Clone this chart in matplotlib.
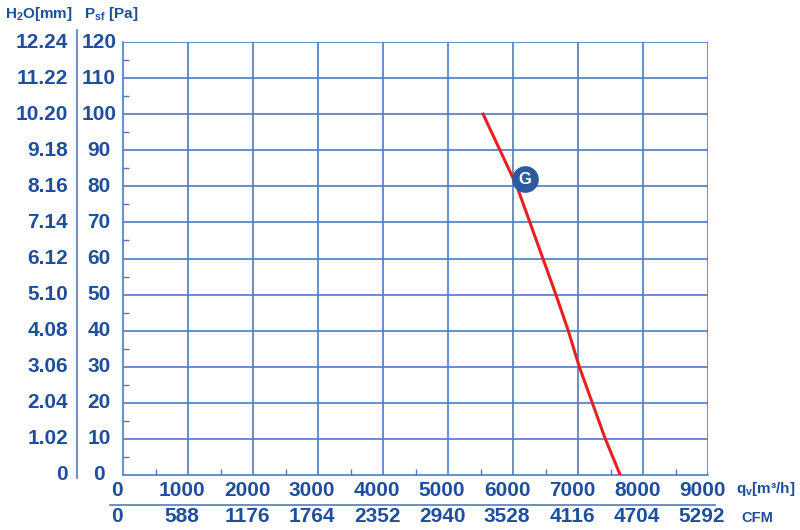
import matplotlib.pyplot as plt
import matplotlib as mpl

mpl.rcParams['font.family'] = ['Liberation Sans', 'DejaVu Sans']
mpl.rcParams['mathtext.fontset'] = 'custom'
mpl.rcParams['mathtext.rm'] = 'Liberation Sans:bold'
mpl.rcParams['mathtext.it'] = 'Liberation Sans:bold'
mpl.rcParams['mathtext.bf'] = 'Liberation Sans:bold'

# data
flow_ticks = [0, 1000, 2000, 3000, 4000, 5000, 6000, 7000, 8000, 9000]
cfm_labels = ["0", "588", "1176", "1764", "2352", "2940", "3528", "4116", "4704", "5292"]
pa_ticks = [0, 10, 20, 30, 40, 50, 60, 70, 80, 90, 100, 110, 120]
h2o_labels = ["0", "1.02", "2.04", "3.06", "4.08", "5.10", "6.12", "7.14",
              "8.16", "9.18", "10.20", "11.22", "12.24"]

curve_flow = [5540, 5800, 6060, 6260, 6460, 6660, 6850, 7020, 7220, 7420, 7650]
curve_pa = [100, 90, 80, 70, 60, 50, 40, 30, 20, 10, 0]
label_pos = (6185, 82)

grid_c = "#4f7ac0"
text_c = "#1f4e9c"
red = "#e8201f"

fig = plt.figure(figsize=(8, 5.3), dpi=100)
ax = fig.add_axes([123/800, 1-475/530, 585/800, 433/530])
ax.set_xlim(0, 9000)
ax.set_ylim(0, 120)

for x in flow_ticks[1:]:
    ax.axvline(x, color=grid_c, lw=1.2, zorder=1)
for y in pa_ticks[1:]:
    ax.axhline(y, color=grid_c, lw=1.2, zorder=1)
for s in ["top", "right"]:
    ax.spines[s].set_visible(False)
for s in ["left", "bottom"]:
    ax.spines[s].set_color(grid_c)
    ax.spines[s].set_linewidth(1.2)

ax.set_xticks([x + 500 for x in flow_ticks[:-1]])
ax.set_yticks([y + 5 for y in pa_ticks[:-1]])
ax.tick_params(direction="in", length=4, width=1, colors=grid_c,
               labelbottom=False, labelleft=False)

ax.plot(curve_flow, curve_pa, color=red, lw=2.2, zorder=3, solid_joinstyle="round")
ax.scatter([label_pos[0]], [label_pos[1]], s=330, color="#2a5aa0", zorder=4)
ax.text(label_pos[0], label_pos[1], "G", color="white", fontsize=12, fontweight="bold",
        ha="center", va="center", zorder=5)

# left labels (pixel offsets from the axes' left edge)
ytr = ax.get_yaxis_transform()
for y, lab in zip(pa_ticks, h2o_labels):
    ax.text(-24/585, y, str(y), transform=ytr, ha="center", va="center",
            fontsize=15, fontweight="bold", color=text_c, clip_on=False)
    ax.text(-55/585, y, lab, transform=ytr, ha="right", va="center",
            fontsize=15, fontweight="bold", color=text_c, clip_on=False)
ax.plot([-46/585, -46/585], [1 + 12/433, -3/433], transform=ax.transAxes,
        color=grid_c, lw=1.2, clip_on=False)

# bottom labels
xtr = ax.get_xaxis_transform()
for x, lab in zip(flow_ticks, cfm_labels):
    ax.text(x - 90, -15/433, str(x), transform=xtr, ha="center", va="center",
            fontsize=15, fontweight="bold", color=text_c, clip_on=False)
    ax.text(x - 90, -41/433, lab, transform=xtr, ha="center", va="center",
            fontsize=15, fontweight="bold", color=text_c, clip_on=False)
ax.plot([-13/585, 1 + 7/585], [-30/433, -30/433], transform=ax.transAxes,
        color=grid_c, lw=1.2, clip_on=False)

fig.text(736/800, 1-489/530, r"q$_\mathregular{v}$[m³/h]", fontsize=11, fontweight="bold",
         color=text_c, va="center", ha="left")
fig.text(741/800, 1-518/530, "CFM", fontsize=10.5, fontweight="bold", color=text_c,
         va="center", ha="left")
fig.text(5/800, 1-14/530, r"H$_\mathregular{2}$O[mm]", fontsize=11, fontweight="bold",
         color=text_c, va="center", ha="left")
fig.text(84/800, 1-14/530, r"P$_\mathregular{sf}$ [Pa]", fontsize=11, fontweight="bold",
         color=text_c, va="center", ha="left")

fig.savefig("out.png", dpi=100)
